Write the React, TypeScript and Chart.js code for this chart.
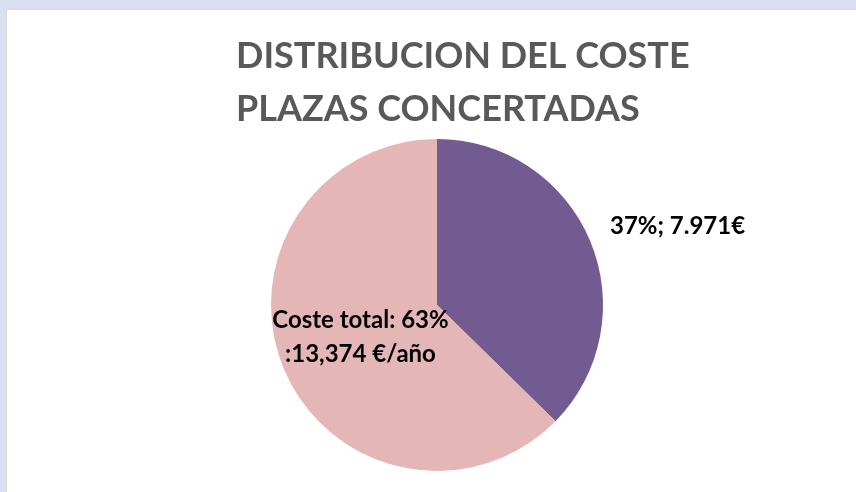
import React, { useEffect, useRef } from "react";
import { Chart, registerables } from "chart.js";

Chart.register(...registerables);

const categories = ["Coste plaza (37%)", "Coste total (63%)"];
const seriesValues = [7971, 13374];
const sliceColors = ["#725b91", "#e5b6b6"];
const titleLines = ["DISTRIBUCION DEL COSTE", "PLAZAS CONCERTADAS"];
const sliceLabels = [["37%; 7.971€"], ["Coste total: 63%", ":13,374 €/año"]];

const FONT = "Lato, 'Open Sans', sans-serif";

const overlayPlugin = {
  id: "overlay",
  afterDatasetsDraw(chart: any) {
    const ctx = chart.ctx as CanvasRenderingContext2D;
    ctx.save();
    // title
    ctx.fillStyle = "#595959";
    ctx.font = `bold 36px ${FONT}`;
    ctx.textAlign = "left";
    ctx.textBaseline = "alphabetic";
    titleLines.forEach((t, i) => ctx.fillText(t, 236, 68 + i * 53));

    const meta = chart.getDatasetMeta(0);
    ctx.fillStyle = "#000000";
    ctx.font = `bold 24px ${FONT}`;
    ctx.textBaseline = "middle";
    meta.data.forEach((arc: any, i: number) => {
      const p = arc.getProps(["x", "y", "startAngle", "endAngle", "outerRadius"], true);
      const mid = (p.startAngle + p.endAngle) / 2;
      const lines = sliceLabels[i];
      if (i === 0) {
        ctx.textAlign = "left";
        const ly = p.y + Math.sin(mid) * p.outerRadius * 1.23;
        ctx.fillText(lines[0], p.x + p.outerRadius + 7, ly);
      } else {
        ctx.textAlign = "center";
        const cx = p.x + Math.cos(mid) * p.outerRadius * 0.5;
        const cy = p.y + Math.sin(mid) * p.outerRadius * 0.5;
        const pitch = 33.5;
        lines.forEach((l, k) => {
          ctx.fillText(l, cx, cy + (k - (lines.length - 1) / 2) * pitch);
        });
      }
    });
    ctx.restore();
  },
};

export default function App() {
  const ref = useRef<HTMLCanvasElement | null>(null);
  useEffect(() => {
    if (!ref.current) return;
    const chart = new Chart(ref.current, {
      type: "pie",
      data: {
        labels: categories,
        datasets: [
          {
            data: seriesValues,
            backgroundColor: sliceColors,
            borderWidth: 0,
          },
        ],
      },
      options: {
        responsive: false,
        animation: false,
        layout: { padding: { top: 139, bottom: 21, left: 271, right: 253 } },
        plugins: {
          legend: { display: false },
          tooltip: { enabled: false },
          title: { display: false },
        },
      },
      plugins: [overlayPlugin],
    });
    return () => chart.destroy();
  }, []);

  return (
    <div
      style={{
        position: "fixed",
        left: 0,
        top: 0,
        width: 856,
        height: 492,
        background: "#dae0f2",
        overflow: "hidden",
      }}
    >
      <div
        style={{
          position: "absolute",
          left: 6,
          top: 9,
          width: 850,
          height: 483,
          background: "#ffffff",
          borderTop: "1px solid #d9d9d9",
          borderLeft: "1px solid #d9d9d9",
          boxSizing: "border-box",
        }}
      />
      <canvas
        ref={ref}
        width={856}
        height={492}
        style={{ position: "absolute", left: 0, top: 0, width: 856, height: 492 }}
      />
    </div>
  );
}
